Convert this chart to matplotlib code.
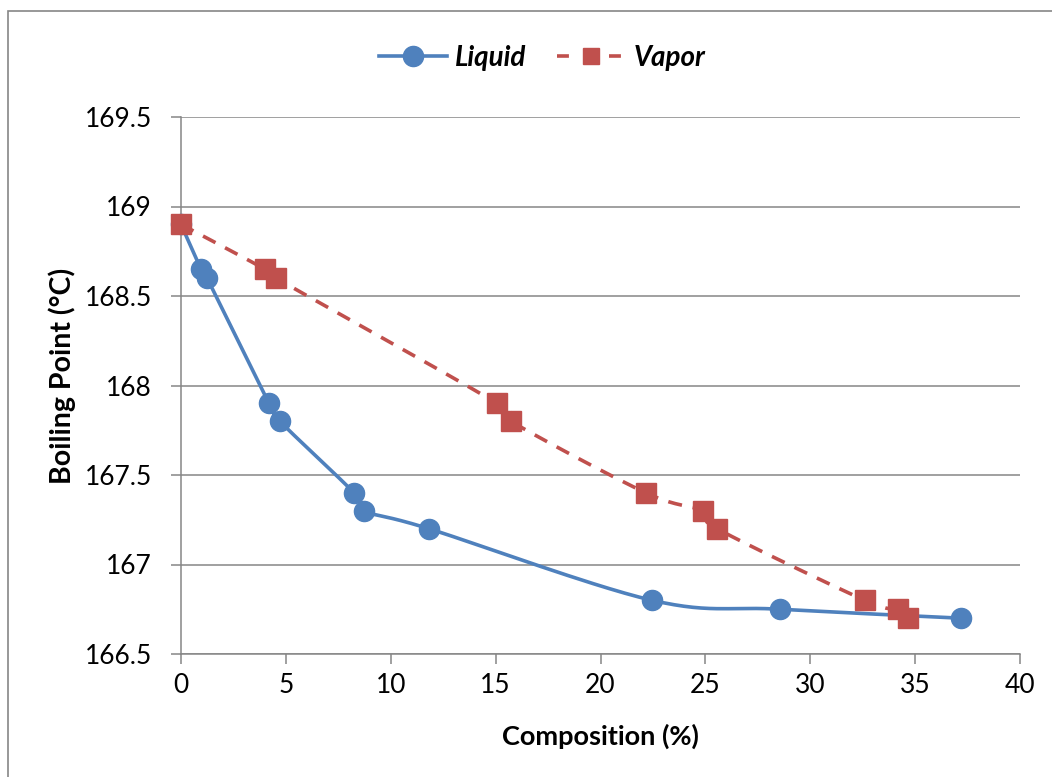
import numpy as np
import matplotlib
matplotlib.use("Agg")
import matplotlib.pyplot as plt
from matplotlib.lines import Line2D
from matplotlib.patches import Rectangle

# Boiling point diagram data
liquid_x = [0.0, 0.95, 1.24, 4.2, 4.72, 8.25, 8.72, 11.82, 22.46, 28.56, 37.19]
liquid_y = [168.9, 168.65, 168.6, 167.9, 167.8, 167.4, 167.3, 167.2, 166.8, 166.75, 166.7]
vapor_x = [0.0, 4.0, 4.53, 15.07, 15.73, 22.17, 24.89, 25.56, 32.6, 34.18, 34.66]
vapor_y = [168.9, 168.65, 168.6, 167.9, 167.8, 167.4, 167.3, 167.2, 166.8, 166.75, 166.7]
x_ticks = [0, 5, 10, 15, 20, 25, 30, 35, 40]
y_ticks = [166.5, 167, 167.5, 168, 168.5, 169, 169.5]
y_tick_labels = ["166.5", "167", "167.5", "168", "168.5", "169", "169.5"]

BLUE = "#4F81BD"
RED = "#C0504D"
GRID = "#868686"
FONT = ["Lato", "DejaVu Sans"]
LW = 2.6

XMIN, XMAX = 0, 40
YMIN, YMAX = 166.5, 169.5


def smooth(xs, ys, n=30):
    """Bezier smoothing through points (spreadsheet-style smoothed line)."""
    sx = (XMAX - XMIN)
    sy = (YMAX - YMIN)
    p = np.column_stack([(np.asarray(xs) - XMIN) / sx, (np.asarray(ys) - YMIN) / sy])
    out = [p[0]]
    m = len(p)
    for i in range(m - 1):
        p0 = p[i - 1] if i > 0 else p[i]
        p1 = p[i]
        p2 = p[i + 1]
        p3 = p[i + 2] if i + 2 < m else p[i + 1]
        c1 = p1 + (p2 - p0) / 6.0
        c2 = p2 - (p3 - p1) / 6.0
        t = np.linspace(0, 1, n)[1:, None]
        seg = ((1 - t) ** 3) * p1 + 3 * ((1 - t) ** 2) * t * c1 + 3 * (1 - t) * t ** 2 * c2 + t ** 3 * p2
        out.extend(seg)
    out = np.array(out)
    return out[:, 0] * sx + XMIN, out[:, 1] * sy + YMIN


fig = plt.figure(figsize=(10.52, 7.77), dpi=100)
ax = fig.add_axes([181 / 1052, 1 - 654 / 777, (1020 - 181) / 1052, (654 - 117) / 777])

# outer chart frame
fig.patches.append(Rectangle((8 / 1052, -0.1), 1.2, 1 - 11 / 777 + 0.1,
                             transform=fig.transFigure, fill=False,
                             edgecolor=GRID, linewidth=1.2, zorder=0))

ax.set_xlim(XMIN, XMAX)
ax.set_ylim(YMIN, YMAX)
ax.set_xticks(x_ticks)
ax.set_yticks(y_ticks)
ax.set_yticklabels(y_tick_labels)

ax.grid(axis="y", color=GRID, linewidth=1.1)
ax.set_axisbelow(True)
for s in ["top", "right"]:
    ax.spines[s].set_visible(False)
for s in ["left", "bottom"]:
    ax.spines[s].set_color(GRID)
    ax.spines[s].set_linewidth(1.1)
ax.tick_params(axis="both", direction="out", length=7, width=1.1, color=GRID,
               labelsize=19, pad=7)
ax.tick_params(axis="y", pad=14)
for lab in ax.get_xticklabels() + ax.get_yticklabels():
    lab.set_family(FONT)

lx, ly = smooth(liquid_x, liquid_y)
vx, vy = smooth(vapor_x, vapor_y)
ax.plot(lx, ly, color=BLUE, linewidth=LW, solid_capstyle="round", zorder=3, clip_on=False)
ax.plot(vx, vy, color=RED, linewidth=LW, linestyle=(0, (3.9, 3.0)), zorder=3, clip_on=False)
ax.plot(liquid_x, liquid_y, linestyle="none", marker="o", markersize=14.5,
        color=BLUE, zorder=4, clip_on=False)
ax.plot(vapor_x, vapor_y, linestyle="none", marker="s", markersize=14,
        color=RED, zorder=5, clip_on=False)

ax.set_xlabel("Composition (%)", fontsize=19.5, fontweight="bold", family=FONT)
ax.xaxis.set_label_coords(0.5, -(736 - 654) / (654 - 117))
ax.xaxis.label.set_va("center")
ax.set_ylabel("Boiling Point (°C)", fontsize=20.5, fontweight="bold", family=FONT)
ax.yaxis.set_label_coords(-(181 - 62) / (1020 - 181), (654 - 376) / (654 - 117))
ax.yaxis.label.set_va("center")

handles = [
    Line2D([], [], color=BLUE, linewidth=LW, marker="o", markersize=14.5),
    Line2D([], [], color=RED, linewidth=LW, linestyle=(0, (3.3, 3.9)), marker="s", markersize=12),
]
fig.legend(handles, ["Liquid", "Vapor"], loc="center", bbox_to_anchor=(542 / 1052, 1 - 58 / 777),
           ncol=2, frameon=False, handlelength=2.45, columnspacing=1.1, handletextpad=0.3,
           prop={"family": FONT, "size": 20, "weight": "bold", "style": "italic"})

fig.savefig("out.png", dpi=100)
